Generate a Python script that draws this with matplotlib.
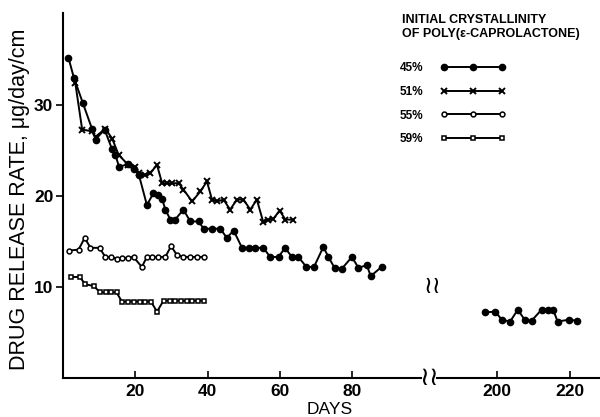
import matplotlib
matplotlib.use("Agg")
import matplotlib.pyplot as plt

plt.rcParams['font.family'] = ['Liberation Sans', 'DejaVu Sans']

# initial crystallinity 45 %
days_45 = [1.5, 3, 5.5, 8, 9, 11.5, 13.5, 14.5, 15.5, 18, 19.5, 21, 23.2, 25, 26.4,
           27.4, 28.3, 29.7, 31, 33.3, 35.2, 37.5, 38.9, 41.2, 43.5, 45.3, 47.2, 49.5,
           51.3, 53.1, 55.4, 57.3, 59.6, 61.4, 63.3, 65.1, 67.3, 69.4, 72, 73.4, 75.1,
           77.1, 79.9, 81.7, 84, 85.1, 88.1]
rate_45 = [35.2, 33.0, 30.2, 27.4, 26.2, 27.3, 25.2, 24.5, 23.2, 23.5, 23.0, 22.3, 19.0,
           20.3, 20.1, 19.7, 18.5, 17.4, 17.4, 18.5, 17.2, 17.2, 16.4, 16.4, 16.4, 15.4,
           16.2, 14.3, 14.3, 14.3, 14.3, 13.3, 13.3, 14.3, 13.3, 13.3, 12.2, 12.2, 14.4,
           13.3, 12.1, 12.0, 13.3, 12.1, 12.4, 11.2, 12.2]
days_45_late = [196.6, 199.6, 201.3, 203.6, 205.7, 207.6, 209.5, 212.2, 214, 215.4,
                216.6, 219.6, 222]
rate_45_late = [7.2, 7.3, 6.4, 6.2, 7.5, 6.4, 6.3, 7.5, 7.5, 7.5, 6.2, 6.4, 6.3]

# 51 %
days_51 = [3.4, 5.3, 8, 9, 11.7, 13.6, 15.4, 18.1, 20, 21, 22.8, 24.1, 26, 27.4, 28.8,
           30.1, 32, 33.3, 35.7, 38, 39.8, 41.2, 42.6, 44.4, 46.2, 48.1, 49.9, 51.8,
           53.6, 55.4, 56.8, 58.2, 59.9, 61.5, 63.7]
rate_51 = [32.4, 27.3, 27.1, 26.5, 27.4, 26.3, 24.5, 23.4, 23.2, 22.5, 22.3, 22.5, 23.4,
           21.4, 21.4, 21.4, 21.4, 20.7, 19.4, 20.5, 21.6, 19.6, 19.4, 19.6, 18.5, 19.6,
           19.6, 18.5, 19.6, 17.1, 17.4, 17.5, 18.4, 17.4, 17.4]

# 55 %
days_55 = [1.6, 4.3, 6.0, 7.6, 10.1, 11.7, 13.3, 14.8, 16.3, 17.9, 19.5, 21.8, 23.2,
           24.6, 26.4, 28.3, 29.9, 31.5, 33.3, 35.2, 37.0, 38.9]
rate_55 = [14.0, 14.1, 15.4, 14.3, 14.3, 13.3, 13.3, 13.1, 13.2, 13.2, 13.3, 12.2, 13.3,
           13.3, 13.3, 13.3, 14.5, 13.5, 13.3, 13.3, 13.3, 13.3]

# 59 %
days_59 = [2.2, 4.6, 6.2, 8.5, 10.3, 11.8, 13.4, 14.8, 16.3, 17.9, 19.5, 21.2, 22.8,
           24.3, 26.0, 27.8, 29.7, 31.0, 32.6, 34.3, 35.7, 37.2, 38.9]
rate_59 = [11.1, 11.1, 10.3, 10.1, 9.4, 9.4, 9.4, 9.4, 8.4, 8.4, 8.4, 8.4, 8.4, 8.4,
           7.3, 8.5, 8.5, 8.5, 8.5, 8.5, 8.5, 8.5, 8.5]

labels = ["45%", "51%", "55%", "59%"]

W, H = 600, 417


def box(x0, y0, x1, y1):
    # pixel box (top-left origin) -> figure rect
    return [x0 / W, 1 - y1 / H, (x1 - x0) / W, (y1 - y0) / H]


fig = plt.figure(figsize=(6, 4.17), dpi=100)
ax1 = fig.add_axes(box(63, 13, 421, 378))
ax2 = fig.add_axes(box(437, 13, 600, 378))

kw = dict(color="black", lw=1.4)
l45, = ax1.plot(days_45, rate_45, marker="o", ms=4.5, **kw)
ax2.plot(days_45_late, rate_45_late, marker="o", ms=4.5, **kw)
l51, = ax1.plot(days_51, rate_51, marker="x", ms=4.5, mew=1.4, **kw)
l55, = ax1.plot(days_55, rate_55, marker="o", ms=3.5, mfc="white", mew=1.1, **kw)
l59, = ax1.plot(days_59, rate_59, marker="s", ms=3.5, mfc="white", mew=1.1, **kw)

ax1.set_xlim(0, 99)
ax2.set_xlim(183.6, 228.2)
for ax in (ax1, ax2):
    ax.set_ylim(0, 40.1)
    ax.spines["top"].set_visible(False)
    ax.spines["right"].set_visible(False)
    ax.spines["bottom"].set_linewidth(1.5)
    ax.spines["left"].set_linewidth(1.5)
    ax.tick_params(axis="x", direction="in", length=5, width=1.2, pad=4,
                   labelsize=12.5)
ax2.spines["left"].set_visible(False)
ax2.set_yticks([])
ax1.set_xticks([20, 40, 60, 80])
ax2.set_xticks([200, 220])
ax1.set_yticks([10, 20, 30])
ax1.tick_params(axis="y", direction="out", length=5, width=1.2, pad=2, labelsize=12.5)
for ax in (ax1, ax2):
    for t in ax.get_xticklabels() + ax.get_yticklabels():
        t.set_fontweight("bold")

fig.text(20 / W, 1 - 199 / H, "DRUG RELEASE RATE, \u03bcg/day/cm", rotation=90,
         ha="center", va="center", fontsize=15.5)
fig.text(330 / W, 1 - 409 / H, "DAYS", ha="center", va="center", fontsize=12.5)

# axis break marks
fig.text(429 / W, 1 - 378 / H, "\u2240\u2240", ha="center", va="center", fontsize=19)
fig.text(432 / W, 1 - 287 / H, "\u2240\u2240", ha="center", va="center", fontsize=17)

fig.text(402 / W, 1 - 20 / H, "INITIAL CRYSTALLINITY", ha="left", va="center",
         fontsize=9, fontweight="bold")
fig.text(402 / W, 1 - 34 / H, "OF POLY(\u03b5-CAPROLACTONE)", ha="left", va="center",
         fontsize=9, fontweight="bold")
fig.legend([l45, l51, l55, l59], labels, loc="upper left",
           bbox_to_anchor=(400 / W, 1 - 62 / H), frameon=False, numpoints=3,
           markerfirst=False, handlelength=5.5, handletextpad=1.4, labelspacing=1.0,
           borderpad=0, borderaxespad=0, prop=dict(weight="bold", size=8.5))

fig.savefig("out.png", dpi=100)
